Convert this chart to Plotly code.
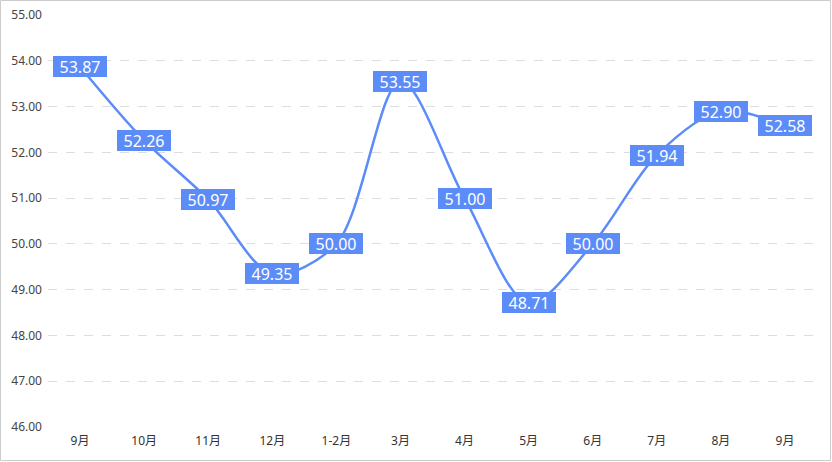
import plotly.graph_objects as go

categories = ["9月", "10月", "11月", "12月", "1-2月", "3月", "4月", "5月", "6月", "7月", "8月", "9月"]
values = [53.87, 52.26, 50.97, 49.35, 50.00, 53.55, 51.00, 48.71, 50.00, 51.94, 52.90, 52.58]
y_ticks = [46, 47, 48, 49, 50, 51, 52, 53, 54, 55]

line_color = "#5B8CF8"
font_family = "Microsoft YaHei, Noto Sans, Noto Sans CJK SC, sans-serif"

x_idx = list(range(len(categories)))

fig = go.Figure()
fig.add_trace(go.Scatter(
    x=x_idx, y=values, mode="lines",
    line=dict(color=line_color, width=2.5, shape="spline", smoothing=0.9),
    hoverinfo="skip", showlegend=False,
))

for xi, v in zip(x_idx, values):
    fig.add_annotation(
        x=xi, y=v, xref="x", yref="y", text=f"{v:.2f}", showarrow=False,
        font=dict(color="white", size=16, family=font_family),
        bgcolor=line_color, bordercolor=line_color, borderwidth=1, borderpad=2,
        width=48, height=15,
        xanchor="center", yanchor="middle",
    )

W, H = 832, 462
ml, mr, mt, mb = 48, 15, 15, 35
pw, ph = W - ml - mr, H - mt - mb

fig.add_shape(
    type="rect", xref="paper", yref="paper",
    x0=-(ml - 0.5) / pw, x1=1 + (mr - 1.5) / pw,
    y0=-(mb - 1.5) / ph, y1=1 + (mt - 0.5) / ph,
    line=dict(color="#CCCCCC", width=1), fillcolor="rgba(0,0,0,0)", layer="below",
)

fig.update_layout(
    width=W, height=H,
    margin=dict(l=ml, r=mr, t=mt, b=mb, autoexpand=False),
    paper_bgcolor="white", plot_bgcolor="white",
    font=dict(family=font_family, color="#333333"),
    xaxis=dict(
        tickmode="array", tickvals=x_idx, ticktext=categories,
        range=[-0.5, len(categories) - 0.5], automargin=False,
        showgrid=False, zeroline=False, showline=False, ticks="",
        tickfont=dict(size=12, color="#333333"), ticklabelstandoff=5,
    ),
    yaxis=dict(
        range=[46, 55], tickmode="array", tickvals=y_ticks,
        ticktext=[f"{t:.2f}" for t in y_ticks], automargin=False,
        showgrid=True, gridcolor="#DDDDDD", griddash="dash", gridwidth=1,
        zeroline=False, showline=False, ticks="",
        tickfont=dict(size=12, color="#444444"), ticklabelstandoff=5,
    ),
)

fig.write_html(
    "out.html",
    config={"displayModeBar": False},
    post_script="document.body.style.margin='0';document.body.style.overflow='hidden';",
)
